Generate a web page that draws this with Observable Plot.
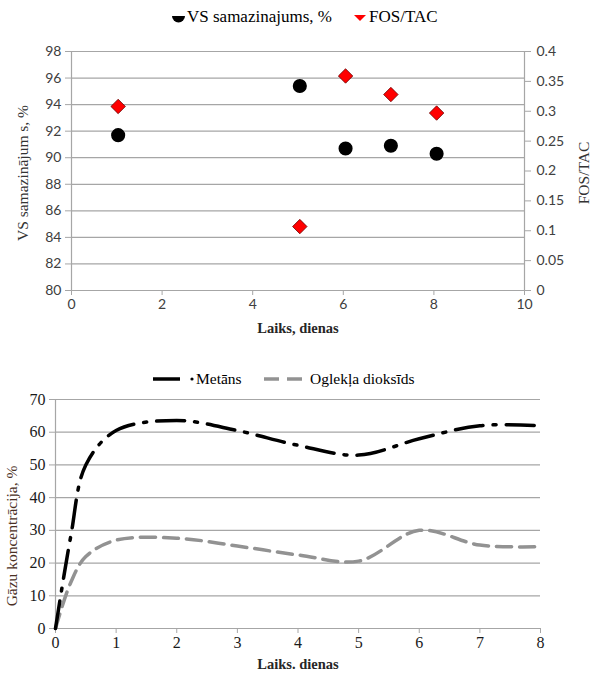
<!DOCTYPE html>
<html>
<head>
<meta charset="utf-8">
<script src="https://cdn.jsdelivr.net/npm/d3@7"></script>
<script src="https://cdn.jsdelivr.net/npm/@observablehq/plot@0.6"></script>
<style>
  body { margin: 0; background: #fff; width: 594px; height: 675px; position: relative; overflow: hidden; }
  .abs { position: absolute; left: 0; }
  .legend { width: 594px; font-family: "Liberation Serif", serif; font-size: 15px; color: #000; }
</style>
</head>
<body>
<div id="leg1" class="abs legend" style="top:0px;height:34px;"></div>
<div id="c1" class="abs" style="top:34px;"></div>
<div id="leg2" class="abs legend" style="top:366px;height:26px;"></div>
<div id="c2" class="abs" style="top:390px;"></div>
<script>
// ---------- Top chart data ----------
const days1 = [1.03, 5.04, 6.05, 7.05, 8.06];
const vsReduction = [91.7, 95.4, 90.7, 90.9, 90.3];
const fosTac = [0.308, 0.107, 0.359, 0.328, 0.297];
const xTicks1 = [0, 2, 4, 6, 8, 10];
const yTicksLeft = [80, 82, 84, 86, 88, 90, 92, 94, 96, 98];
const yTicksRight = [0, 0.05, 0.1, 0.15, 0.2, 0.25, 0.3, 0.35, 0.4];
const series1Names = ["VS samazinajums, %", "FOS/TAC"];

// ---------- Bottom chart data ----------
const days2 = [0, 0.25, 0.5, 1, 2, 3, 4, 5, 6, 7, 8];
const methane = [0, 28, 50, 60.5, 63.6, 60.5, 56, 53, 58, 62, 62];
const co2 = [0, 14, 22, 27, 27.6, 25.2, 22.5, 20.6, 30, 25.5, 25];
const xTicks2 = [0, 1, 2, 3, 4, 5, 6, 7, 8];
const yTicks2 = [0, 10, 20, 30, 40, 50, 60, 70];
const series2Names = ["Metāns", "Oglekļa dioksīds"];

const serif = "Liberation Serif, Times New Roman, serif";
const sans = "Lato, Liberation Sans, sans-serif";
const gridC = "#a6a6a6";

// map FOS/TAC onto left scale
const fosToLeft = f => 80 + f / 0.4 * 18;

const vsData = days1.map((d, i) => ({x: d, y: vsReduction[i]}));
const fosData = days1.map((d, i) => ({x: d, y: fosToLeft(fosTac[i])}));

const chart1 = Plot.plot({
  width: 594, height: 310,
  marginLeft: 71, marginRight: 70, marginTop: 17, marginBottom: 54,
  style: {fontFamily: sans, fontSize: "14px", color: "#404040", background: "transparent"},
  x: {domain: [0, 10]},
  y: {domain: [80, 98]},
  marks: [
    Plot.ruleY(yTicksLeft, {stroke: gridC, strokeWidth: 1.2}),
    Plot.ruleX([0, 10], {stroke: gridC, strokeWidth: 1.2}),
    Plot.axisX(xTicks1, {tickSize: 5, stroke: gridC, tickPadding: 4, fill: "#404040", label: null}),
    Plot.axisY(yTicksLeft, {anchor: "left", tickSize: 6, stroke: gridC, tickPadding: 4, fill: "#404040", label: null}),
    Plot.axisY(yTicksRight.map(fosToLeft), {anchor: "right", tickSize: 6, stroke: gridC, tickPadding: 6, fill: "#404040",
      tickFormat: d => String(+((d - 80) / 18 * 0.4).toFixed(2)), label: null}),
    Plot.dot(vsData, {x: "x", y: "y", r: 6.3, fill: "#000", stroke: "#000"}),
    Plot.dot(fosData, {x: "x", y: "y", r: 6.5, symbol: "diamond2", fill: "#ff0000", stroke: "#600", strokeWidth: 0.8}),
    Plot.text(["Laiks, dienas"], {frameAnchor: "bottom", dy: 42, fontFamily: serif, fontWeight: "bold", fontSize: 14.5, fill: "#262626"}),
    Plot.text(["VS samazinājum s, %"], {frameAnchor: "left", textAnchor: "middle", dx: -48, dy: 2, rotate: -90, fontFamily: serif, fontSize: 15.5, fill: "#333"}),
    Plot.text(["FOS/TAC"], {frameAnchor: "right", textAnchor: "middle", dx: 60, dy: 2, rotate: -90, fontFamily: serif, fontSize: 15.5, fill: "#333"})
  ]
});
document.getElementById("c1").appendChild(chart1);

const lineData = days2.flatMap((d, i) => [
  {x: d, y: methane[i], s: series2Names[0]},
  {x: d, y: co2[i], s: series2Names[1]}
]);

const chart2 = Plot.plot({
  width: 594, height: 285,
  marginLeft: 55, marginRight: 54, marginTop: 9, marginBottom: 47,
  style: {fontFamily: serif, fontSize: "16px", color: "#1a1a1a", background: "transparent"},
  x: {domain: [0, 8]},
  y: {domain: [0, 70]},
  marks: [
    Plot.ruleY(yTicks2, {stroke: gridC, strokeWidth: 1.2}),
    Plot.ruleX([0], {stroke: gridC, strokeWidth: 1.2}),
    Plot.axisX(xTicks2, {tickSize: 5, stroke: gridC, tickPadding: 3, fill: "#1a1a1a", label: null}),
    Plot.axisY(yTicks2, {anchor: "left", tickSize: 6, stroke: gridC, tickPadding: 4, fill: "#1a1a1a", label: null}),
    Plot.line(lineData.filter(d => d.s === series2Names[1]), {x: "x", y: "y", stroke: "#929292", strokeWidth: 3.5,
      strokeDasharray: "15,8", curve: "catmull-rom"}),
    Plot.line(lineData.filter(d => d.s === series2Names[0]), {x: "x", y: "y", stroke: "#000", strokeWidth: 3.5,
      strokeDasharray: "28,10,3,10", curve: "catmull-rom"}),
    Plot.text(["Laiks. dienas"], {frameAnchor: "bottom", dy: 40, fontFamily: serif, fontWeight: "bold", fontSize: 14.5, fill: "#262626"}),
    Plot.text(["Gāzu koncentrācija, %"], {frameAnchor: "left", textAnchor: "middle", dx: -43, dy: 22, rotate: -90, fontFamily: serif, fontSize: 15.5, fill: "#4a3025"})
  ]
});
document.getElementById("c2").appendChild(chart2);

// ---------- Legends ----------
const leg1 = d3.select("#leg1").append("svg").attr("width", 594).attr("height", 34)
  .style("font-family", serif).style("font-size", "17px");
leg1.append("path").attr("d", "M172,16 A6.5,6.5 0 0 0 185,16 Z").attr("fill", "#000");
leg1.append("text").attr("x", 187).attr("y", 22).text(series1Names[0]);
leg1.append("path").attr("d", "M354,15 L366,15 L360,21 Z").attr("fill", "#ff0000");
leg1.append("text").attr("x", 369).attr("y", 22).text(series1Names[1]);

const leg2 = d3.select("#leg2").append("svg").attr("width", 594).attr("height", 26)
  .style("font-family", serif).style("font-size", "15.5px");
leg2.append("line").attr("x1", 153).attr("x2", 180).attr("y1", 13).attr("y2", 13)
  .attr("stroke", "#000").attr("stroke-width", 3.5);
leg2.append("circle").attr("cx", 192).attr("cy", 13).attr("r", 1.6).attr("fill", "#000");
leg2.append("text").attr("x", 196).attr("y", 18).text(series2Names[0]);
leg2.append("line").attr("x1", 264).attr("x2", 302).attr("y1", 13).attr("y2", 13)
  .attr("stroke", "#929292").attr("stroke-width", 3.5).attr("stroke-dasharray", "15,8");
leg2.append("text").attr("x", 310).attr("y", 18).text(series2Names[1]);
</script>
</body>
</html>
